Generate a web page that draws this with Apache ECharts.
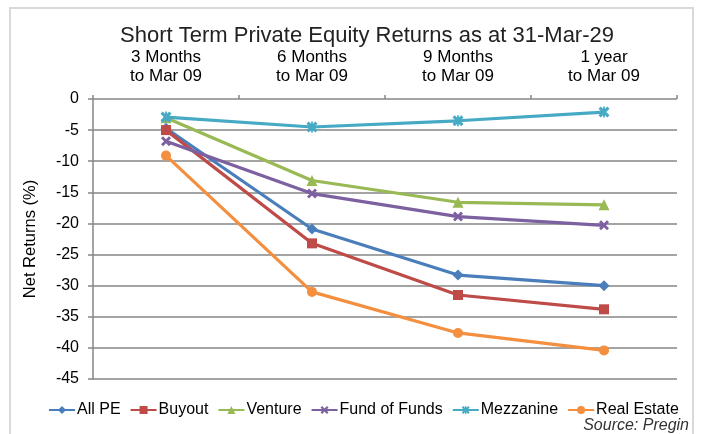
<!DOCTYPE html>
<html>
<head>
<meta charset="utf-8">
<script src="https://cdn.jsdelivr.net/npm/echarts@6/dist/echarts.min.js"></script>
<style>
  html, body { margin: 0; padding: 0; background: #fff; }
  #chart { width: 704px; height: 434px; }
</style>
</head>
<body>
<div id="chart"></div>
<script>
// periods (top axis)
var periods = ['3 Months\nto Mar 09', '6 Months\nto Mar 09', '9 Months\nto Mar 09', '1 year\nto Mar 09'];

// net returns (%)
var allPE       = [-4.7, -20.9, -28.3, -30.0];
var buyout      = [-5.0, -23.2, -31.5, -33.8];
var venture     = [-3.0, -13.1, -16.6, -17.0];
var fundOfFunds = [-6.8, -15.2, -18.9, -20.3];
var mezzanine   = [-2.9, -4.5, -3.5, -2.1];
var realEstate  = [-9.1, -31.0, -37.6, -40.4];

// marker shapes for the cross type symbols
var xMark = 'path://M2,0L5,3L8,0L10,2L7,5L10,8L8,10L5,7L2,10L0,8L3,5L0,2Z';
var starMark = 'path://M2,0L5,3L8,0L10,2L7,5L10,8L8,10L5,7L2,10L0,8L3,5L0,2ZM4.2,0L5.8,0L5.8,10L4.2,10Z';

function line(name, data, color, symbol, size) {
  return {
    name: name,
    type: 'line',
    data: data,
    symbol: symbol,
    symbolSize: size,
    lineStyle: { color: color, width: 3.2 },
    itemStyle: { color: color },
    emphasis: { disabled: true }
  };
}

var chart = echarts.init(document.getElementById('chart'));
chart.setOption({
  animation: false,
  backgroundColor: '#fff',
  textStyle: { fontFamily: 'Liberation Sans, Arial, sans-serif' },
  title: {
    text: 'Short Term Private Equity Returns as at 31-Mar-29',
    left: 362,
    textAlign: 'center',
    top: 20,
    textStyle: { fontSize: 22, fontWeight: 'normal', color: '#222' }
  },
  legend: {
    left: 43,
    top: 397,
    itemWidth: 26,
    itemHeight: 10,
    itemGap: 9,
    textStyle: { fontSize: 16, color: '#000', padding: [0, 0, 0, -3] },
    data: ['All PE', 'Buyout', 'Venture', 'Fund of Funds', 'Mezzanine', 'Real Estate']
  },
  grid: { left: 93, right: 27, top: 99, bottom: 55 },
  xAxis: {
    type: 'category',
    position: 'top',
    data: periods,
    axisLine: { show: false },
    axisTick: { show: true, length: 4, lineStyle: { color: '#868686', width: 1.5 } },
    axisLabel: { fontSize: 17, color: '#000', lineHeight: 19, margin: 13 },
    splitLine: { show: false }
  },
  yAxis: {
    type: 'value',
    min: -45,
    max: 0,
    interval: 5,
    name: 'Net Returns (%)',
    nameLocation: 'middle',
    nameGap: 54,
    nameTextStyle: { fontSize: 16.5, color: '#000' },
    axisLine: { show: true, lineStyle: { color: '#868686', width: 1.5 } },
    axisTick: { show: true, length: 5, lineStyle: { color: '#868686', width: 1.5 } },
    axisLabel: { fontSize: 16, color: '#000', margin: 14 },
    splitLine: { lineStyle: { color: '#868686', width: 1.5 } }
  },
  graphic: [
    {
      type: 'rect',
      shape: { x: 10, y: 8, width: 683, height: 440 },
      style: { fill: 'none', stroke: '#d9d9d9', lineWidth: 2 },
      z: -1
    },
    {
      type: 'text',
      right: 15,
      top: 418,
      style: { text: 'Source: Pregin', font: 'italic 16px Liberation Sans, Arial, sans-serif', fill: '#333' }
    }
  ],
  series: [
    line('All PE', allPE, '#4a7ebb', 'diamond', 11),
    line('Buyout', buyout, '#be4b48', 'rect', 10),
    line('Venture', venture, '#98b954', 'triangle', 11),
    line('Fund of Funds', fundOfFunds, '#7d60a0', xMark, 10),
    line('Mezzanine', mezzanine, '#46aac5', starMark, 11),
    line('Real Estate', realEstate, '#f38f3e', 'circle', 10)
  ]
});
</script>
</body>
</html>
